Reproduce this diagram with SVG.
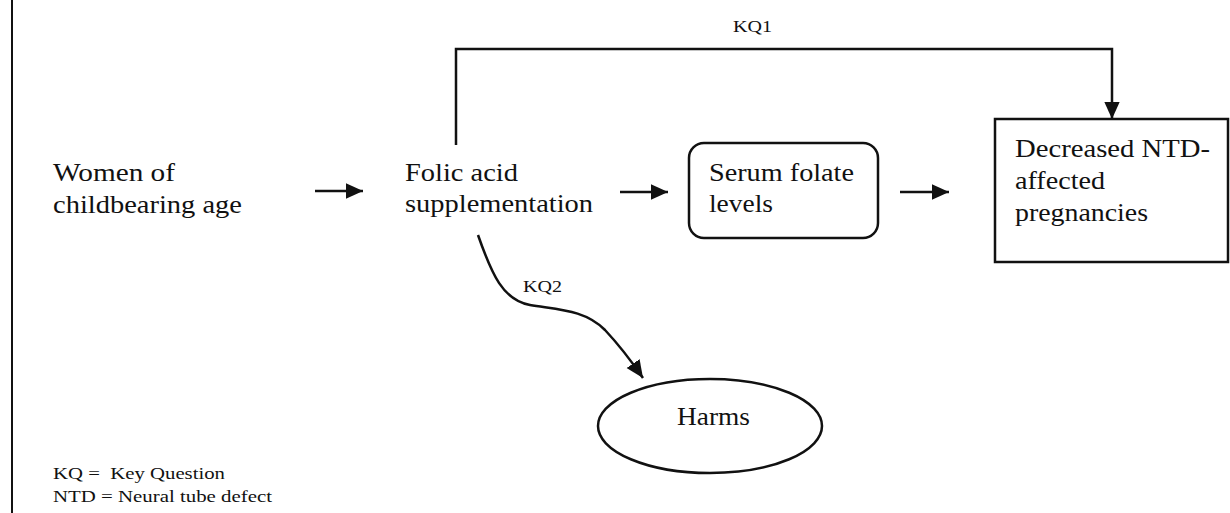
<svg xmlns="http://www.w3.org/2000/svg" width="1230" height="513" viewBox="0 0 1230 513">
<style>
text{font-family:"Liberation Serif","Times New Roman",serif;fill:#111}
.m{font-size:25px}
.s{font-size:17px}
.l{font-size:17px}
.ln{fill:none;stroke:#111;stroke-width:2.5}
.bx{fill:#fff;stroke:#111;stroke-width:2.5}
</style>
<defs>
<marker id="ah" viewBox="0 0 10 10" refX="10" refY="5" markerWidth="7" markerHeight="7" markerUnits="strokeWidth" orient="auto">
<path d="M0,0.5 L10,5 L0,9.5 Z" fill="#111"/>
</marker>
</defs>
<rect x="0" y="0" width="1230" height="513" fill="#fff"/>
<line x1="12" y1="0" x2="12" y2="513" stroke="#111" stroke-width="2"/>
<g id="connectors">
<line class="ln" x1="315" y1="191" x2="363" y2="191" marker-end="url(#ah)"/>
<line class="ln" x1="620" y1="192" x2="668" y2="192" marker-end="url(#ah)"/>
<line class="ln" x1="900" y1="192" x2="949" y2="192" marker-end="url(#ah)"/>
<polyline class="ln" points="456,145 456,49 1112,49 1112,119" marker-end="url(#ah)"/>
<path class="ln" d="M478,235 C492,275 503,300 530,305 C560,310 585,310 605,330 C620,346 632,362 643,378" marker-end="url(#ah)"/>
<text class="s" x="733" y="32" textLength="39" lengthAdjust="spacingAndGlyphs">KQ1</text>
<text class="s" x="523" y="292" textLength="39" lengthAdjust="spacingAndGlyphs">KQ2</text>
</g>
<g id="women">
<text class="m" x="53" y="181" textLength="122" lengthAdjust="spacingAndGlyphs">Women of</text>
<text class="m" x="53" y="213" textLength="189" lengthAdjust="spacingAndGlyphs">childbearing age</text>
</g>
<g id="folic">
<text class="m" x="405" y="181" textLength="113" lengthAdjust="spacingAndGlyphs">Folic acid</text>
<text class="m" x="405" y="212" textLength="188" lengthAdjust="spacingAndGlyphs">supplementation</text>
</g>
<g id="serum">
<rect class="bx" x="689" y="143" width="189" height="95" rx="15" ry="15"/>
<text class="m" x="709" y="181" textLength="145" lengthAdjust="spacingAndGlyphs">Serum folate</text>
<text class="m" x="709" y="212" textLength="64" lengthAdjust="spacingAndGlyphs">levels</text>
</g>
<g id="decreased">
<rect class="bx" x="995" y="119" width="233" height="143"/>
<text class="m" x="1015" y="157" textLength="195" lengthAdjust="spacingAndGlyphs">Decreased NTD-</text>
<text class="m" x="1015" y="189" textLength="90" lengthAdjust="spacingAndGlyphs">affected</text>
<text class="m" x="1015" y="221" textLength="133" lengthAdjust="spacingAndGlyphs">pregnancies</text>
</g>
<g id="harms">
<ellipse class="bx" cx="710" cy="426" rx="112" ry="47"/>
<text class="m" x="677" y="425" textLength="73" lengthAdjust="spacingAndGlyphs">Harms</text>
</g>
<g id="legend">
<text class="l" x="53" y="479" textLength="172" lengthAdjust="spacingAndGlyphs" xml:space="preserve">KQ =  Key Question</text>
<text class="l" x="53" y="502" textLength="219" lengthAdjust="spacingAndGlyphs">NTD = Neural tube defect</text>
</g>
</svg>
